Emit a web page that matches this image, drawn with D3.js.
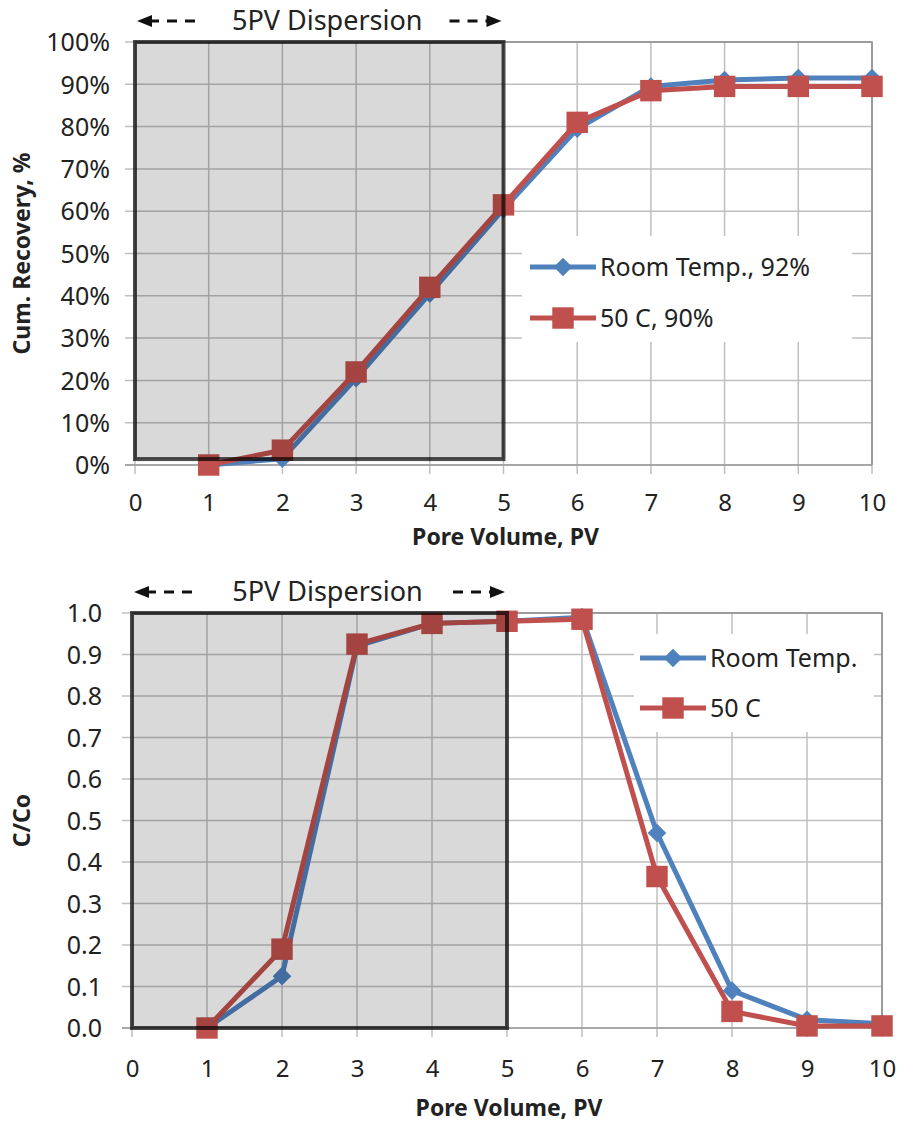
<!DOCTYPE html>
<html>
<head>
<meta charset="utf-8">
<script src="https://cdn.jsdelivr.net/npm/d3@7"></script>
<style>
  body { margin: 0; background: #fff; }
  text { font-family: "Noto Sans", sans-serif; fill: #222; }
</style>
</head>
<body>
<svg id="chart" width="899" height="1122"></svg>
<script>
// Data
const poreVolume = [1, 2, 3, 4, 5, 6, 7, 8, 9, 10];
const recoveryRoom = [0, 1.5, 20.5, 40.5, 60.5, 79.5, 89.5, 91, 91.5, 91.5];
const recovery50C = [0, 3.5, 22, 42, 61.5, 81, 88.5, 89.5, 89.5, 89.5];
const ccoRoom = [0, 0.125, 0.92, 0.975, 0.98, 0.99, 0.47, 0.09, 0.02, 0.01];
const cco50C = [0, 0.19, 0.925, 0.975, 0.98, 0.985, 0.365, 0.04, 0.005, 0.005];

const xTicks = [0, 1, 2, 3, 4, 5, 6, 7, 8, 9, 10];
const recoveryTicks = [0, 10, 20, 30, 40, 50, 60, 70, 80, 90, 100];
const ccoTicks = [0, 0.1, 0.2, 0.3, 0.4, 0.5, 0.6, 0.7, 0.8, 0.9, 1.0];

const dispersionPV = [0, 5];
const recoveryBoxY = [1.4, 100];
const ccoBoxY = [0, 1.0];

const seriesNamesTop = ["Room Temp., 92%", "50 C, 90%"];
const seriesNamesBottom = ["Room Temp.", "50 C"];

const blue = "#4f81bd";
const red = "#c0504d";

const svg = d3.select("#chart");

const diamond = d3.symbol().type(d3.symbolDiamond2).size(220);
const square = d3.symbol().type(d3.symbolSquare).size(460);

function drawPanel(cfg) {
  const g = svg.append("g");

  const x = d3.scaleLinear().domain([0, 10]).range([cfg.left, cfg.right]);
  const y = d3.scaleLinear().domain(cfg.yDomain).range([cfg.bottom, cfg.top]);

  // gridlines
  g.selectAll(".hgrid")
    .data(cfg.yTicks)
    .enter()
    .append("line")
    .attr("x1", cfg.left - 10)
    .attr("x2", cfg.right)
    .attr("y1", d => y(d))
    .attr("y2", d => y(d))
    .attr("stroke", "#bfbfbf")
    .attr("stroke-width", 1.5);

  g.selectAll(".vgrid")
    .data(xTicks)
    .enter()
    .append("line")
    .attr("x1", d => x(d))
    .attr("x2", d => x(d))
    .attr("y1", cfg.top)
    .attr("y2", cfg.bottom + 9)
    .attr("stroke", "#bfbfbf")
    .attr("stroke-width", 1.5);

  // plot border (top / right) and x axis
  g.append("path")
    .attr("d", `M${cfg.left},${cfg.top}H${cfg.right}V${cfg.bottom}`)
    .attr("fill", "none")
    .attr("stroke", "#8c8c8c")
    .attr("stroke-width", 1.5);
  g.append("line")
    .attr("x1", cfg.left - 10).attr("x2", cfg.right)
    .attr("y1", y(0)).attr("y2", y(0))
    .attr("stroke", "#9a9a9a")
    .attr("stroke-width", 1.5);

  // tick labels
  const xAxis = d3.axisBottom(x).tickValues(xTicks).tickSize(0).tickPadding(0);
  const xAxisG = g.append("g")
    .attr("transform", `translate(0,${cfg.bottom})`)
    .call(xAxis);
  xAxisG.select(".domain").remove();
  xAxisG.selectAll("text")
    .attr("y", cfg.xLabelDy)
    .attr("dy", 0)
    .style("font-size", "24px")
    .style("font-family", "Noto Sans")
    .attr("fill", "#222");

  const yAxis = d3.axisLeft(y).tickValues(cfg.yTicks).tickSize(0).tickFormat(cfg.yFormat);
  const yAxisG = g.append("g")
    .attr("transform", `translate(${cfg.yLabelRight},0)`)
    .call(yAxis);
  yAxisG.select(".domain").remove();
  yAxisG.selectAll("text")
    .attr("x", 0)
    .attr("dy", "0.35em")
    .style("font-size", "25px")
    .style("font-family", "Noto Sans")
    .attr("fill", "#222");

  // series
  const series = [
    { key: "room", values: cfg.room, color: blue, sym: diamond },
    { key: "c50", values: cfg.c50, color: red, sym: square }
  ];
  const line = d3.line()
    .x((d, i) => x(poreVolume[i]))
    .y(d => y(d));

  series.forEach(s => {
    g.append("path")
      .datum(s.values)
      .attr("d", line)
      .attr("fill", "none")
      .attr("stroke", s.color)
      .attr("stroke-width", 5)
      .attr("stroke-linejoin", "round");
  });
  series.forEach(s => {
    g.selectAll(".mk-" + s.key)
      .data(s.values)
      .enter()
      .append("path")
      .attr("d", s.sym)
      .attr("transform", (d, i) => `translate(${x(poreVolume[i])},${y(d)})`)
      .attr("fill", s.color);
  });

  // dispersion box (semi transparent, drawn on top)
  g.append("rect")
    .attr("x", x(dispersionPV[0]))
    .attr("y", y(cfg.boxY[1]))
    .attr("width", x(dispersionPV[1]) - x(dispersionPV[0]))
    .attr("height", y(cfg.boxY[0]) - y(cfg.boxY[1]))
    .attr("fill", "#000")
    .attr("fill-opacity", 0.15)
    .attr("stroke", "#000")
    .attr("stroke-opacity", 0.7)
    .attr("stroke-width", 4);

  // annotation
  const ay = cfg.top - 21;
  const ax0 = x(dispersionPV[0]), ax1 = x(dispersionPV[1]);
  g.append("line")
    .attr("x1", ax0 + 14).attr("x2", ax0 + 68)
    .attr("y1", ay).attr("y2", ay)
    .attr("stroke", "#111").attr("stroke-width", 3)
    .attr("stroke-dasharray", "10,8");
  g.append("path")
    .attr("d", `M${ax0 + 2},${ay}L${ax0 + 17},${ay - 6}L${ax0 + 17},${ay + 6}Z`)
    .attr("fill", "#111");
  g.append("line")
    .attr("x1", ax1 - 54).attr("x2", ax1 - 14)
    .attr("y1", ay).attr("y2", ay)
    .attr("stroke", "#111").attr("stroke-width", 3)
    .attr("stroke-dasharray", "10,8");
  g.append("path")
    .attr("d", `M${ax1 - 2},${ay}L${ax1 - 17},${ay - 6}L${ax1 - 17},${ay + 6}Z`)
    .attr("fill", "#111");
  g.append("text")
    .attr("x", (ax0 + ax1) / 2 + 8)
    .attr("y", ay + 9)
    .attr("text-anchor", "middle")
    .style("font-size", "27px")
    .text("5PV Dispersion");

  // legend
  const lg = g.append("g").attr("transform", `translate(${cfg.legend.x},${cfg.legend.y})`);
  lg.append("rect")
    .attr("x", 0).attr("y", 0)
    .attr("width", cfg.legend.w).attr("height", cfg.legend.h)
    .attr("fill", "#fff");
  series.forEach((s, i) => {
    const ly = cfg.legend.rowY[i];
    lg.append("line")
      .attr("x1", cfg.legend.lineX0).attr("x2", cfg.legend.lineX0 + 66)
      .attr("y1", ly).attr("y2", ly)
      .attr("stroke", s.color).attr("stroke-width", 5);
    lg.append("path")
      .attr("d", s.sym)
      .attr("transform", `translate(${cfg.legend.lineX0 + 33},${ly})`)
      .attr("fill", s.color);
    lg.append("text")
      .attr("x", cfg.legend.lineX0 + 70)
      .attr("y", ly)
      .attr("dy", "0.35em")
      .style("font-size", "25px")
      .text(cfg.names[i]);
  });

  // axis titles
  g.append("text")
    .attr("x", (cfg.left + cfg.right) / 2 + 2)
    .attr("y", cfg.xTitleY)
    .attr("text-anchor", "middle")
    .style("font-size", "23px")
    .style("font-weight", "bold")
    .text("Pore Volume, PV");
  g.append("text")
    .attr("transform", `translate(${cfg.yTitleX},${(cfg.top + cfg.bottom) / 2}) rotate(-90)`)
    .attr("text-anchor", "middle")
    .style("font-size", "23px")
    .style("font-weight", "bold")
    .text(cfg.yTitle);
}

drawPanel({
  left: 135, right: 872, top: 42, bottom: 465,
  yDomain: [0, 100], yTicks: recoveryTicks, yFormat: d => d + "%",
  yLabelRight: 110, xLabelDy: 46, xTitleY: 545, yTitleX: 30,
  room: recoveryRoom, c50: recovery50C, boxY: recoveryBoxY,
  names: seriesNamesTop, yTitle: "Cum. Recovery, %",
  legend: { x: 522, y: 236, w: 330, h: 106, lineX0: 8, rowY: [31, 82] }
});

drawPanel({
  left: 132, right: 882, top: 613, bottom: 1028,
  yDomain: [0, 1], yTicks: ccoTicks, yFormat: d3.format(".1f"),
  yLabelRight: 102, xLabelDy: 49, xTitleY: 1116, yTitleX: 30,
  room: ccoRoom, c50: cco50C, boxY: ccoBoxY,
  names: seriesNamesBottom, yTitle: "C/Co",
  legend: { x: 634, y: 634, w: 240, h: 98, lineX0: 6, rowY: [24, 74] }
});
</script>
</body>
</html>
